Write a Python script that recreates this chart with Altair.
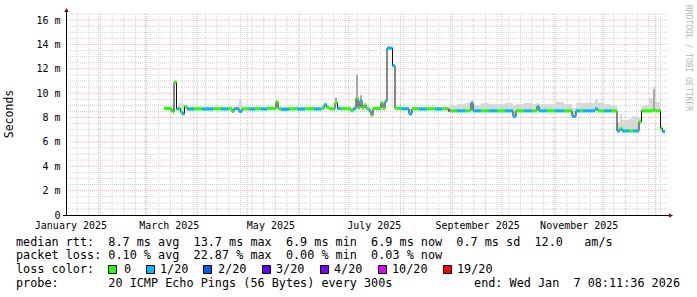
import altair as alt
import pandas as pd

# ---------------- data ----------------
START = pd.Timestamp("2025-01-12 08:11:36")
END = pd.Timestamp("2026-01-07 08:11:36")
LAST_DAY = 359.4

# segment start, days after START
seg_day = [58.8, 63.0, 64.2, 64.8, 66.3, 67.8, 68.7, 69.9, 71.1, 72.6,
           76.8, 81.6, 88.2, 93.0, 97.2, 99.6, 100.8, 103.8, 105.6, 109.8,
           113.4, 117.0, 120.6, 126.0, 127.2, 129.0, 133.8, 138.6, 143.4, 148.8,
           153.0, 154.8, 156.3, 157.8, 161.4, 162.9, 165.0, 171.0, 172.2, 174.0,
           175.2, 176.4, 177.6, 178.8, 180.0, 181.8, 183.0, 184.2, 189.0, 190.2,
           191.4, 192.6, 195.9, 197.4, 201.0, 205.8, 207.6, 211.8, 216.6, 221.4,
           225.6, 229.2, 230.4, 234.6, 239.4, 243.0, 244.2, 249.0, 253.8, 258.6,
           263.4, 268.2, 270.0, 274.8, 279.6, 282.6, 283.8, 288.6, 293.4, 298.8,
           303.6, 306.0, 308.4, 310.2, 317.4, 319.2, 322.8, 327.0, 330.6, 332.4,
           333.6, 337.8, 340.2, 343.8, 345.3, 349.8, 352.2, 354.0, 356.7, 357.9]
# median rtt, ms
median_ms = [8.75, 8.55, 8.45, 10.9, 8.7, 8.75, 8.45, 8.3, 8.9, 8.7,
             8.72, 8.7, 8.72, 8.7, 8.72, 8.5, 8.72, 8.5, 8.72, 8.7,
             8.72, 8.7, 8.75, 9.3, 8.72, 8.68, 8.72, 8.7, 8.72, 8.7,
             8.75, 9.05, 8.85, 8.72, 9.2, 8.75, 8.72, 8.55, 8.72, 9.6,
             8.8, 9.4, 8.8, 9.05, 8.75, 8.55, 8.2, 8.75, 9.2, 8.75,
             9.35, 13.7, 12.25, 8.75, 8.72, 8.3, 8.72, 8.7, 8.72, 8.7,
             8.72, 8.6, 8.55, 8.55, 8.55, 9.2, 8.55, 8.55, 8.55, 8.55,
             8.55, 8.1, 8.55, 8.55, 8.55, 8.9, 8.55, 8.55, 8.55, 8.55,
             8.1, 8.55, 8.55, 8.55, 8.7, 8.55, 8.55, 8.55, 6.9, 7.1,
             6.9, 6.9, 6.9, 7.65, 8.55, 8.55, 8.6, 8.55, 7.1, 6.85]
# pings lost out of 20
loss = [0, 0, 0, 0, 1, 0, 0, 1, 0, 1,
        0, 1, 0, 1, 0, 0, 1, 1, 0, 1,
        0, 1, 0, 0, 0, 1, 0, 1, 0, 1,
        0, 1, 0, 0, 0, 1, 0, 0, 1, 0,
        0, 1, 0, 0, 0, 1, 0, 0, 0, 0,
        1, 1, 1, 0, 1, 1, 0, 1, 0, 1,
        0, 10, 0, 1, 0, 1, 1, 0, 1, 0,
        1, 1, 0, 1, 0, 1, 1, 0, 1, 0,
        1, 1, 0, 1, 1, 0, 1, 0, 1, 0,
        1, 0, 1, 0, 0, 0, 0, 0, 0, 1]
# top of the smoke (max rtt), ms
smoke_hi = [8.85, 8.9, 8.9, 11.0, 8.9, 9.15, 9.2, 9.1, 9.0, 8.9,
            8.9, 8.9, 8.9, 8.9, 8.9, 8.8, 8.9, 9.5, 8.9, 8.9,
            8.9, 8.85, 8.9, 9.4, 8.9, 8.85, 8.85, 8.85, 8.85, 8.85,
            8.9, 9.15, 8.9, 8.85, 9.65, 8.9, 8.85, 8.8, 8.85, 11.5,
            9.0, 9.8, 8.9, 9.1, 8.85, 8.7, 8.5, 8.85, 9.3, 8.85,
            9.4, 13.8, 12.35, 8.85, 8.85, 8.7, 8.85, 8.85, 8.85, 8.85,
            8.85, 8.9, 9.0, 9.1, 9.2, 9.4, 9.0, 9.2, 9.1, 9.1,
            9.2, 9.0, 9.1, 9.2, 9.1, 9.2, 9.1, 9.1, 9.3, 9.1,
            8.8, 9.2, 9.2, 9.2, 9.5, 9.2, 9.1, 9.0, 7.6, 8.3,
            7.8, 7.9, 8.1, 8.0, 9.0, 9.6, 10.5, 9.3, 7.3, 7.0]
# darker smoke spikes
spike_day = [161.4, 174.0, 176.4, 352.2]
spike_top = [9.6, 11.5, 9.8, 10.3]

loss_names = ["0", "1/20", "2/20", "3/20", "4/20", "10/20", "19/20"]
loss_counts = [0, 1, 2, 3, 4, 10, 19]
loss_colors = ["#26ff00", "#00b8ff", "#0059ff", "#5e00ff", "#7e00ff", "#dd00ff", "#ff0000"]

month_labels_at = ["2025-01-15", "2025-03-15", "2025-05-15", "2025-07-16", "2025-09-16", "2025-11-16"]
y_labels = [0, 2, 4, 6, 8, 10, 12, 14, 16]

legend_line1 = "median rtt:  8.7 ms avg  13.7 ms max  6.9 ms min  6.9 ms now  0.7 ms sd  12.0   am/s"
legend_line2 = "packet loss: 0.10 % avg  22.87 % max  0.00 % min  0.03 % now"
legend_line3 = "loss color:"
legend_line4 = "probe:       20 ICMP Echo Pings (56 Bytes) every 300s"
legend_end = "end: Wed Jan  7 08:11:36 2026"
watermark = "RRDTOOL / TOBI OETIKER"

# ---------------- layout ----------------
W, H = 600, 201
PL, PT = 66, 14
YMAX = 16.5
MONO = "DejaVu Sans Mono"


def nb(s):
    return s.replace(" ", "\u00a0")


name_of = dict(zip(loss_counts, loss_names))
df = pd.DataFrame({"day": seg_day, "med": median_ms, "loss": loss, "hi": smoke_hi})
df["start"] = START + pd.to_timedelta(df["day"], unit="D")
df["end"] = df["start"].shift(-1)
df.loc[df.index[-1], "end"] = START + pd.to_timedelta(LAST_DAY, unit="D")
df["lo"] = df["med"] - 0.13
df["top"] = df["med"] + 0.13
df["lname"] = df["loss"].map(name_of)

line_df = pd.concat([df[["start", "med"]],
                     pd.DataFrame({"start": [df["end"].iloc[-1]], "med": [df["med"].iloc[-1]]})],
                    ignore_index=True)

spk = pd.DataFrame({"day": spike_day, "top": spike_top})
spk["start"] = START + pd.to_timedelta(spk["day"], unit="D")
spk["end"] = spk["start"] + pd.Timedelta(days=1.2)
spk["base"] = [df.loc[(df["day"] <= d)].iloc[-1]["med"] for d in spike_day]


def dt(ts):
    return alt.DateTime(year=ts.year, month=ts.month, date=ts.day,
                        hours=ts.hour, minutes=ts.minute, seconds=ts.second)


xscale = alt.Scale(domain=[dt(START), dt(END)])
yscale = alt.Scale(domain=[0, YMAX], nice=False, zero=True)

xaxis = alt.Axis(values=[dt(pd.Timestamp(s)) for s in month_labels_at], format="%B %Y",
                 grid=False, ticks=False, domain=False, labelFont=MONO, labelFontSize=10,
                 labelColor="#000000", labelPadding=5, title=None, labelAngle=0)
yaxis = alt.Axis(values=y_labels,
                 labelExpr="datum.value == 0 ? '0\u00a0\u00a0' : datum.value + '\u00a0m'",
                 grid=False, ticks=False, domain=False, labelFont=MONO, labelFontSize=10,
                 labelColor="#000000", labelPadding=6, title=None)

# grid
weeks = pd.DataFrame({"d": pd.date_range("2025-01-19", "2026-01-07", freq="7D")})
months = pd.DataFrame({"d": pd.date_range("2025-02-01", "2026-01-01", freq="MS")})
hminor = pd.DataFrame({"v": [i * 0.5 for i in range(1, 34) if i % 4 != 0]})
hmajor = pd.DataFrame({"v": [2, 4, 6, 8, 10, 12, 14, 16]})

MINOR = "#d0d0d0"
MAJOR = "#f0b0b0"

g_week = alt.Chart(weeks).mark_rule(color=MINOR, strokeDash=[1, 1], strokeWidth=1).encode(
    x=alt.X("d:T", scale=xscale, axis=xaxis), y=alt.value(0), y2=alt.value(H))
g_hmin = alt.Chart(hminor).mark_rule(color=MINOR, strokeDash=[1, 1], strokeWidth=1).encode(
    y=alt.Y("v:Q", scale=yscale, axis=yaxis), x=alt.value(0), x2=alt.value(W + 2))
g_month = alt.Chart(months).mark_rule(color=MAJOR, strokeDash=[1, 1], strokeWidth=1).encode(
    x=alt.X("d:T", scale=xscale, axis=xaxis), y=alt.value(0), y2=alt.value(H))
g_hmaj = alt.Chart(hmajor).mark_rule(color=MAJOR, strokeDash=[1, 1], strokeWidth=1).encode(
    y=alt.Y("v:Q", scale=yscale, axis=yaxis), x=alt.value(0), x2=alt.value(W + 2))

smoke = alt.Chart(df).mark_rect(color="#d8d8d8").encode(
    x=alt.X("start:T", scale=xscale, axis=xaxis), x2="end:T",
    y=alt.Y("med:Q", scale=yscale, axis=yaxis), y2="hi:Q")
smoke_dark = alt.Chart(spk).mark_rect(color="#a8a8a8").encode(
    x=alt.X("start:T", scale=xscale, axis=xaxis), x2="end:T",
    y=alt.Y("base:Q", scale=yscale, axis=yaxis), y2="top:Q")

med_line = alt.Chart(line_df).mark_line(interpolate="step-after", color="#111111", strokeWidth=1).encode(
    x=alt.X("start:T", scale=xscale, axis=xaxis),
    y=alt.Y("med:Q", scale=yscale, axis=yaxis))

bands = alt.Chart(df).mark_rect().encode(
    x=alt.X("start:T", scale=xscale, axis=xaxis), x2="end:T",
    y=alt.Y("lo:Q", scale=yscale, axis=yaxis), y2="top:Q",
    color=alt.Color("lname:N", scale=alt.Scale(domain=loss_names, range=loss_colors), legend=None))

one = pd.DataFrame({"k": [0]})
AXC = "#000000"
ARROW = "#8b1010"
y_axis_line = alt.Chart(one).mark_rule(color=AXC, strokeWidth=1).encode(
    x=alt.value(0.5), y=alt.value(-3), y2=alt.value(H))
x_axis_line = alt.Chart(one).mark_rule(color=AXC, strokeWidth=1).encode(
    x=alt.value(-3), x2=alt.value(W + 5), y=alt.value(H + 0.5))
y_arrow = alt.Chart(one).mark_point(shape="triangle-up", filled=True, color=ARROW, size=22, opacity=1).encode(
    x=alt.value(0.5), y=alt.value(-4))
x_arrow = alt.Chart(one).mark_point(shape="triangle-right", filled=True, color=ARROW, size=22, opacity=1).encode(
    x=alt.value(W + 5), y=alt.value(H + 0.5))


def txt(s, x, y, size=11.8, align="left", angle=0, color="#000000"):
    return alt.Chart(pd.DataFrame({"t": [nb(s)]})).mark_text(
        align=align, baseline="middle", font=MONO, fontSize=size, color=color, angle=angle
    ).encode(text="t:N", x=alt.value(x), y=alt.value(y))


texts = [
    txt("Seconds", 10 - PL, 114 - PT, size=11.5, align="center", angle=270),
    txt(watermark, 688 - PL, 5 - PT, size=8, align="left", angle=90, color="#b8b8b8"),
    txt(legend_line1, 16 - PL, 241.7 - PT),
    txt(legend_line2, 16 - PL, 255.2 - PT),
    txt(legend_line3, 16 - PL, 269.2 - PT),
    txt(legend_line4, 16 - PL, 282.8 - PT),
    txt(legend_end, 680 - PL, 282.8 - PT, align="right"),
]

box_x = [108, 146, 203, 262, 320, 378, 443]
lab_x = [124, 160, 218, 276, 334, 392, 457]
legend_items = []
for name, col, bx, lx in zip(loss_names, loss_colors, box_x, lab_x):
    legend_items.append(
        alt.Chart(one).mark_rect(fill=col, stroke="#000000", strokeWidth=1).encode(
            x=alt.value(bx - PL + 0.5), x2=alt.value(bx - PL + 8.5),
            y=alt.value(265 - PT + 0.5), y2=alt.value(273 - PT + 0.5)))
    legend_items.append(txt(name, lx - PL, 269.2 - PT))

layers = [g_week, g_hmin, g_month, g_hmaj, smoke, smoke_dark, med_line, bands,
          y_axis_line, x_axis_line, y_arrow, x_arrow] + texts + legend_items

chart = alt.layer(*layers).properties(
    width=W, height=H,
    padding={"left": PL, "top": PT, "right": 697 - PL - W, "bottom": 297 - PT - H},
    autosize=alt.AutoSizeParams(type="none"),
    background="#ffffff",
).configure_view(stroke=None)

chart.save("out.html", embed_options={"renderer": "svg", "actions": False})
